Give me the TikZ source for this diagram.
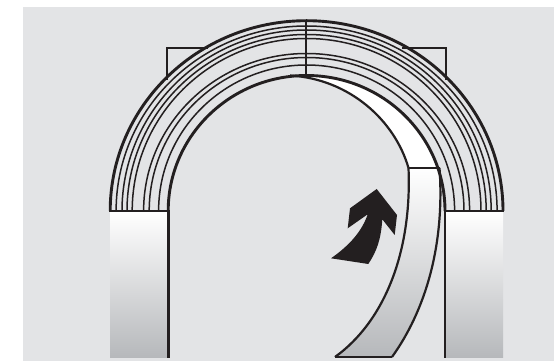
\documentclass[tikz,border=0pt]{standalone}
\definecolor{bggray}{HTML}{E3E4E6}
\definecolor{ink}{HTML}{231F20}
\definecolor{shade}{HTML}{B6B8BB}
\tikzset{
  heavy/.style={draw=ink,line width=2.9pt},
  medium/.style={draw=ink,line width=2.2pt},
  ring/.style={draw=ink,line width=1.5pt},
  panelshade/.style={top color=white,bottom color=shade}
}
\begin{document}
\begin{tikzpicture}[x=1pt,y=1pt]
\useasboundingbox (0,0) rectangle (554,361);
\fill[bggray] (23,0) rectangle (554,354);
% pillars
\shade[panelshade] (110,3) rectangle (168.5,150);
\shade[panelshade] (445,3) rectangle (503,150);
\draw[medium] (168.5,3) -- (168.5,150);
\draw[medium] (445,3) -- (445,150);
% squares behind the arch
\draw[medium] (208,313) -- (167,313) -- (167,281);
\draw[medium] (402,313) -- (446,313) -- (446,281);
% sliding panel
\fill[white] (292,285.6) arc[start angle=96,end angle=18,x radius=138.4pt,y radius=135.5pt]
  -- (408.5,193)
  .. controls (395,240) and (350,282) .. (290,285.5) -- cycle;
\draw[medium] (290,285.5) .. controls (350,282) and (395,240) .. (408.5,193);
\shade[panelshade] (408.5,193) .. controls (412,110) and (385,40) .. (335,4)
  -- (392,4) .. controls (425,50) and (445,115) .. (439.5,193) -- cycle;
\draw[medium] (408.5,193) .. controls (412,110) and (385,40) .. (335,4);
\draw[medium] (392,4) .. controls (425,50) and (445,115) .. (439.5,193);
\draw[medium] (335,4) -- (392,4);
\draw[medium] (408.5,193) -- (439.5,193);
% arch rings
\foreach \rx/\ry in {190.5/185,184.6/181,179.6/176.5,174.4/172.5,163/157.5,157.4/153.5,148/146}{
  \draw[ring] (306.6-\rx,150) arc[start angle=180,end angle=0,x radius=\rx pt,y radius=\ry pt];
}
\draw[heavy] (110.2,150) arc[start angle=180,end angle=0,x radius=196.4pt,y radius=190.3pt];
\draw[heavy] (168.2,150) arc[start angle=180,end angle=0,x radius=138.4pt,y radius=135.5pt];
\draw[heavy] (306,340.3) -- (306,285.5);
\draw[heavy] (109,150) -- (169.5,150);
\draw[heavy] (444,150) -- (504,150);
% arrow
\fill[ink] (376.7,172) -- (397,146) -- (394.7,126) -- (382.3,141.7)
  .. controls (381,122) and (377,110) .. (368.3,97)
  -- (331,102.7)
  .. controls (350,116) and (362,130) .. (367.7,146.7)
  -- (347.7,132.7) -- (350,152.7) -- cycle;
\end{tikzpicture}
\end{document}
